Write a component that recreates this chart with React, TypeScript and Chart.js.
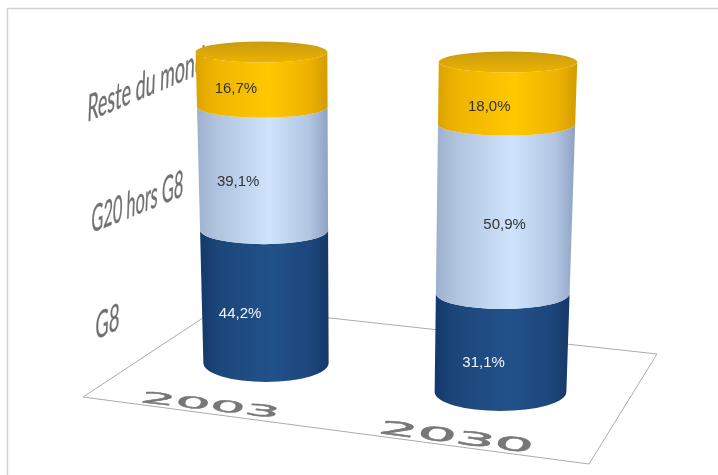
import React, { useEffect, useRef } from "react";
import { Chart, registerables } from "chart.js";

Chart.register(...registerables);

const years = ["2003", "2030"];
const seriesNames = ["G8", "G20 hors G8", "Reste du monde"];
const g8Shares = [44.2, 31.1];
const g20Shares = [39.1, 50.9];
const restShares = [16.7, 18.0];

// Offset of each printed share, per series then per year.
const labelNudgeX = [
  [-25, -18],
  [-25, 0],
  [-26, -18],
];
const labelNudgeY = [
  [0, 2],
  [0, 2],
  [-1, 3],
];

type Pt = { x: number; y: number };

// Corners of the value plane (cylinder axes run through it) on the canvas.
const planeBottomLeft: Pt = { x: 148.75, y: 348.5 };
const planeBottomRight: Pt = { x: 617.75, y: 406.5 };
const planeTopLeft: Pt = { x: 138.25, y: 47 };
const planeTopRight: Pt = { x: 631.25, y: 67 };

const floorCorners: Pt[] = [
  { x: 83, y: 397 },
  { x: 221, y: 306 },
  { x: 657, y: 354 },
  { x: 589, y: 464 },
];

const palette = [
  { edgeL: "#14386a", shadeL: "#1c4679", mid: "#215189", shadeR: "#1d467c", edgeR: "#153866" },
  { edgeL: "#9db0cd", shadeL: "#b0c3de", mid: "#cfe3fc", shadeR: "#b1c5e2", edgeR: "#8ea3c3" },
  { edgeL: "#dca300", shadeL: "#efb400", mid: "#ffc800", shadeR: "#edb200", edgeR: "#d39c00" },
];

function lerp(a: number, b: number, t: number) {
  return a + (b - a) * t;
}

// Projects a chart-area position (u across, t down from the top) on the plane.
function project(u: number, t: number): Pt & { f: number } {
  const wTop = 0.943;
  const f = t / ((1 - t) * wTop + t);
  const top = { x: lerp(planeTopLeft.x, planeTopRight.x, u), y: lerp(planeTopLeft.y, planeTopRight.y, u) };
  const bot = { x: lerp(planeBottomLeft.x, planeBottomRight.x, u), y: lerp(planeBottomLeft.y, planeBottomRight.y, u) };
  return { x: lerp(top.x, bot.x, f), y: lerp(top.y, bot.y, f), f };
}

function ringRadius(f: number) {
  return 10.5 + 8.5 * Math.pow(f, 1.5);
}

function sideGradient(ctx: CanvasRenderingContext2D, x0: number, x1: number, c: typeof palette[number]) {
  const g = ctx.createLinearGradient(x0, 0, x1, 0);
  g.addColorStop(0, c.edgeL);
  g.addColorStop(0.14, c.shadeL);
  g.addColorStop(0.55, c.mid);
  g.addColorStop(0.86, c.shadeR);
  g.addColorStop(1, c.edgeR);
  return g;
}

// Flat text laid along a baseline from `from` to `to`, with its up-vector given.
function skewedText(
  ctx: CanvasRenderingContext2D,
  text: string,
  font: string,
  from: Pt,
  to: Pt,
  up: Pt,
  capHeight: number,
  colour: string,
  blur: number,
  weight: number
) {
  ctx.save();
  ctx.font = font;
  ctx.textBaseline = "alphabetic";
  ctx.textAlign = "left";
  const w = ctx.measureText(text).width;
  const h = capHeight;
  ctx.transform((to.x - from.x) / w, (to.y - from.y) / w, -up.x / h, -up.y / h, from.x, from.y);
  ctx.filter = `blur(${blur}px)`;
  ctx.fillStyle = colour;
  ctx.strokeStyle = colour;
  ctx.lineWidth = weight;
  ctx.lineJoin = "round";
  ctx.strokeText(text, 0, 0);
  ctx.fillText(text, 0, 0);
  ctx.restore();
}

const cylinderPlugin = {
  id: "cylinders",
  beforeDatasetsDraw(chart: any) {
    const ctx: CanvasRenderingContext2D = chart.ctx;
    // picture frame
    ctx.save();
    ctx.strokeStyle = "#d2d2d2";
    ctx.lineWidth = 1.5;
    ctx.beginPath();
    ctx.moveTo(7.5, 475);
    ctx.lineTo(7.5, 8.5);
    ctx.lineTo(718, 8.5);
    ctx.stroke();

    // floor
    ctx.strokeStyle = "#ababab";
    ctx.lineWidth = 1;
    ctx.beginPath();
    floorCorners.forEach((p, i) => (i ? ctx.lineTo(p.x, p.y) : ctx.moveTo(p.x, p.y)));
    ctx.closePath();
    ctx.stroke();
    ctx.restore();

    // series names on the back wall
    const wallFont = "100px Lato";
    skewedText(ctx, seriesNames[2], wallFont, { x: 87, y: 122 }, { x: 214, y: 68 }, { x: 1, y: -27 }, 72, "#707070", 0.6, 1);
    skewedText(ctx, seriesNames[1], wallFont, { x: 91, y: 233 }, { x: 183, y: 196 }, { x: 1, y: -27 }, 72, "#707070", 0.6, 1);
    skewedText(ctx, seriesNames[0], wallFont, { x: 95, y: 340 }, { x: 119, y: 329 }, { x: 1, y: -27 }, 72, "#707070", 0.6, 1);

    // years on the floor
    const floorFont = "100px 'DejaVu Sans'";
    skewedText(ctx, years[0], floorFont, { x: 139, y: 402 }, { x: 278, y: 418 }, { x: 4, y: -11 }, 72, "#777777", 0.7, 3);
    skewedText(ctx, years[1], floorFont, { x: 377, y: 433 }, { x: 531, y: 453 }, { x: 5, y: -13 }, 72, "#777777", 0.7, 3);
  },
  afterDatasetsDraw(chart: any) {
    const ctx: CanvasRenderingContext2D = chart.ctx;
    const area = chart.chartArea;
    const areaW = area.right - area.left;
    const areaH = area.bottom - area.top;
    const metas = chart.data.datasets.map((_: unknown, i: number) => chart.getDatasetMeta(i));

    years.forEach((_, yearIdx) => {
      const sample = metas[0].data[yearIdx];
      const u = (sample.x - area.left) / areaW;
      const halfU = ((sample.width / 2) / areaW) * (1 + 0.1 * (u - 0.5));

      const ring = (pixelY: number) => {
        const t = (pixelY - area.top) / areaH;
        const c = project(u, t);
        const l = project(u - halfU, t);
        const r = project(u + halfU, t);
        return { cx: c.x, cy: c.y, rx: (r.x - l.x) / 2, ry: ringRadius(c.f), f: c.f };
      };

      metas.forEach((meta: any, s: number) => {
        const el = meta.data[yearIdx];
        const hi = ring(el.y);
        const lo = ring(el.base);
        const colours = palette[s];
        ctx.save();
        ctx.beginPath();
        ctx.moveTo(hi.cx - hi.rx, hi.cy);
        ctx.lineTo(lo.cx - lo.rx, lo.cy);
        ctx.ellipse(lo.cx, lo.cy, lo.rx, lo.ry, 0, Math.PI, 0, true);
        ctx.lineTo(hi.cx + hi.rx, hi.cy);
        ctx.ellipse(hi.cx, hi.cy, hi.rx, hi.ry, 0, 0, Math.PI, false);
        ctx.closePath();
        ctx.fillStyle = sideGradient(ctx, Math.min(hi.cx - hi.rx, lo.cx - lo.rx), Math.max(hi.cx + hi.rx, lo.cx + lo.rx), colours);
        ctx.fill();
        ctx.restore();
      });

      // lid of the top segment
      const topMeta = metas[metas.length - 1];
      const lid = ring(topMeta.data[yearIdx].y);
      const lidFill = ctx.createLinearGradient(0, lid.cy - lid.ry, 0, lid.cy + lid.ry);
      lidFill.addColorStop(0, "#c99c10");
      lidFill.addColorStop(1, "#edb102");
      ctx.beginPath();
      ctx.ellipse(lid.cx, lid.cy, lid.rx, lid.ry, 0, 0, Math.PI * 2);
      ctx.fillStyle = lidFill;
      ctx.fill();

      // printed shares
      metas.forEach((meta: any, s: number) => {
        const el = meta.data[yearIdx];
        const mid = ring((el.y + el.base) / 2);
        const value: number = chart.data.datasets[s].data[yearIdx];
        ctx.save();
        ctx.filter = "blur(0.3px)";
        ctx.font = "15px 'Liberation Sans'";
        ctx.textAlign = "center";
        ctx.textBaseline = "middle";
        ctx.fillStyle = s === 0 ? "#f2f5fa" : "#333333";
        ctx.fillText(
          value.toFixed(1).replace(".", ",") + "%",
          mid.cx + labelNudgeX[s][yearIdx],
          mid.cy + mid.ry + labelNudgeY[s][yearIdx]
        );
        ctx.restore();
      });
    });
  },
};

export default function App() {
  const canvasRef = useRef<HTMLCanvasElement | null>(null);

  useEffect(() => {
    if (!canvasRef.current) return;
    const chart = new Chart(canvasRef.current, {
      type: "bar",
      data: {
        labels: years,
        datasets: [
          { label: seriesNames[0], data: g8Shares, backgroundColor: "rgba(0,0,0,0)" },
          { label: seriesNames[1], data: g20Shares, backgroundColor: "rgba(0,0,0,0)" },
          { label: seriesNames[2], data: restShares, backgroundColor: "rgba(0,0,0,0)" },
        ],
      },
      options: {
        responsive: false,
        animation: false,
        layout: { padding: 0 },
        datasets: { bar: { categoryPercentage: 1, barPercentage: 0.548 } },
        plugins: { legend: { display: false }, tooltip: { enabled: false }, title: { display: false } },
        scales: {
          x: { stacked: true, display: false },
          y: { stacked: true, display: false, min: 0, max: 100 },
        },
      },
      plugins: [cylinderPlugin],
    } as any);
    return () => chart.destroy();
  }, []);

  return (
    <canvas
      ref={canvasRef}
      width={718}
      height={475}
      style={{ position: "fixed", left: 0, top: 0, background: "#ffffff" }}
    />
  );
}
